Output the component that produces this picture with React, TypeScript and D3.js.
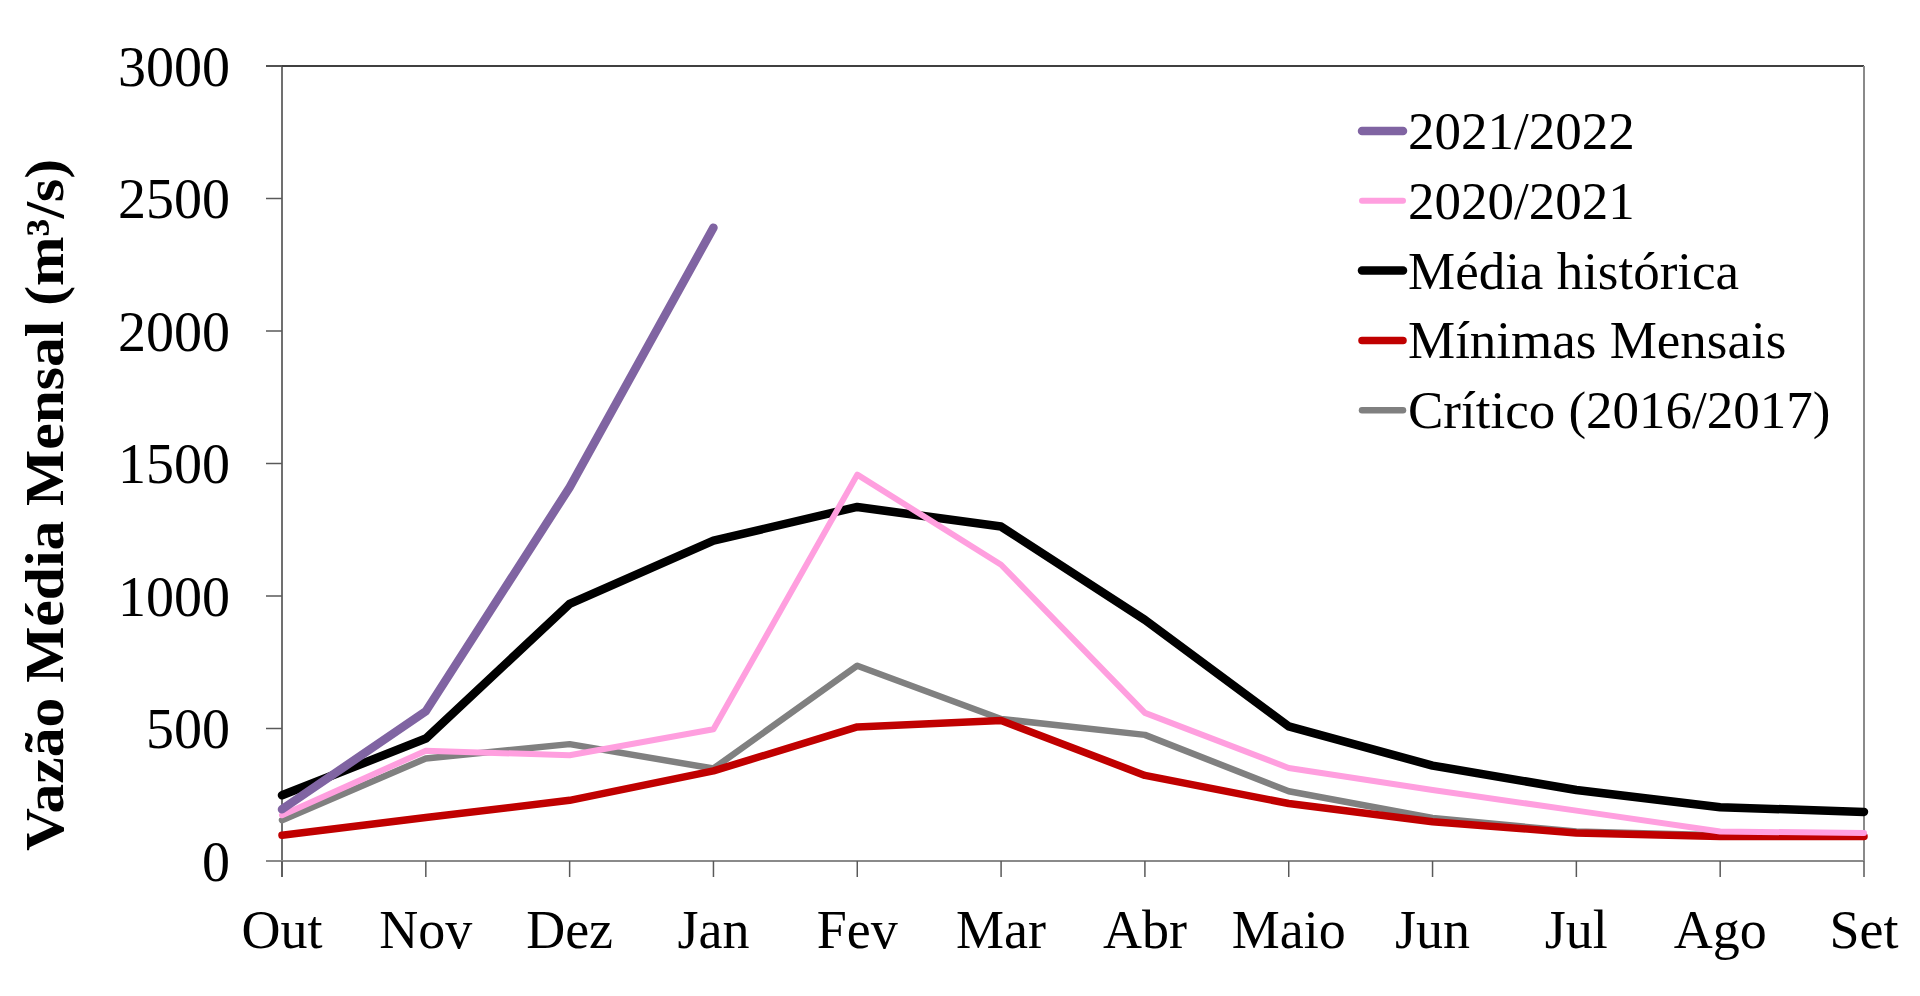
import React from "react";
import * as d3 from "d3";

const months = ["Out", "Nov", "Dez", "Jan", "Fev", "Mar", "Abr", "Maio", "Jun", "Jul", "Ago", "Set"];
const yTicks = [0, 500, 1000, 1500, 2000, 2500, 3000];

const s2021_2022 = [195, 565, 1410, 2390];
const s2020_2021 = [173, 416, 399, 497, 1458, 1118, 559, 351, 268, 190, 111, 106];
const mediaHistorica = [248, 462, 970, 1209, 1336, 1262, 910, 508, 360, 268, 203, 185];
const minimasMensais = [97, 164, 229, 340, 506, 530, 323, 217, 148, 106, 92, 92];
const critico = [154, 387, 441, 349, 737, 536, 476, 263, 162, 111, 97, 97];

const seriesNames = ["2021/2022", "2020/2021", "Média histórica", "Mínimas Mensais", "Crítico (2016/2017)"];
const seriesData = [s2021_2022, s2020_2021, mediaHistorica, minimasMensais, critico];
const seriesColors = ["#8064A2", "#FF9FDF", "#000000", "#C00000", "#808080"];
const seriesWidths = [8.5, 6, 8.5, 7.5, 6.5];

const FONT = "'Liberation Serif', 'DejaVu Serif', serif";

export default function App() {
  const left = 282, right = 1864, top = 66, bottom = 861;
  const x = d3.scalePoint<string>().domain(months).range([left, right]);
  const y = d3.scaleLinear().domain([0, 3000]).range([bottom, top]);
  const line = d3
    .line<number>()
    .x((_, i) => x(months[i]) as number)
    .y((d) => y(d));

  const order = [4, 3, 2, 1, 0];

  return (
    <svg
      width={1920}
      height={996}
      style={{ position: "absolute", left: 0, top: 0, background: "#fff" }}
      fontFamily={FONT}
    >
      <rect x={0} y={0} width={1920} height={996} fill="#fff" />
      <line x1={left - 16} x2={right} y1={top} y2={top} stroke="#404040" strokeWidth={2} />
      <line x1={right} x2={right} y1={top} y2={bottom} stroke="#8a8a8a" strokeWidth={2} />
      <line x1={left} x2={left} y1={top} y2={bottom + 16} stroke="#404040" strokeWidth={1.5} />
      {yTicks.map((t) => (
        <g key={t}>
          <line x1={left - 16} x2={left} y1={y(t)} y2={y(t)} stroke="#595959" strokeWidth={1.5} />
          <text x={left - 52} y={y(t)} dy="0.35em" textAnchor="end" fontSize={56} fill="#000">
            {t}
          </text>
        </g>
      ))}
      <line x1={left - 16} x2={right} y1={bottom} y2={bottom} stroke="#8a8a8a" strokeWidth={2} />
      {months.map((m) => (
        <g key={m}>
          <line x1={x(m)} x2={x(m)} y1={bottom} y2={bottom + 16} stroke="#595959" strokeWidth={1.5} />
          <text x={x(m)} y={948} textAnchor="middle" fontSize={54} fill="#000">
            {m}
          </text>
        </g>
      ))}
      {order.map((i) => (
        <path
          key={seriesNames[i]}
          d={line(seriesData[i]) || ""}
          fill="none"
          stroke={seriesColors[i]}
          strokeWidth={seriesWidths[i]}
          strokeLinejoin="round"
          strokeLinecap="round"
        />
      ))}
      <text
        transform={`translate(63, 505) rotate(-90)`}
        textAnchor="middle"
        fontSize={54}
        fontWeight="bold"
        textLength={692}
        lengthAdjust="spacingAndGlyphs"
        fill="#000"
      >
        Vazão Média Mensal (m³/s)
      </text>
      {seriesNames.map((n, i) => {
        const cy = 131 + i * 69.8;
        return (
          <g key={n}>
            <line
              x1={1362}
              x2={1403}
              y1={cy}
              y2={cy}
              stroke={seriesColors[i]}
              strokeWidth={seriesWidths[i]}
              strokeLinecap="round"
            />
            <text x={1408} y={cy} dy="0.34em" fontSize={53} fill="#000">
              {n}
            </text>
          </g>
        );
      })}
    </svg>
  );
}
